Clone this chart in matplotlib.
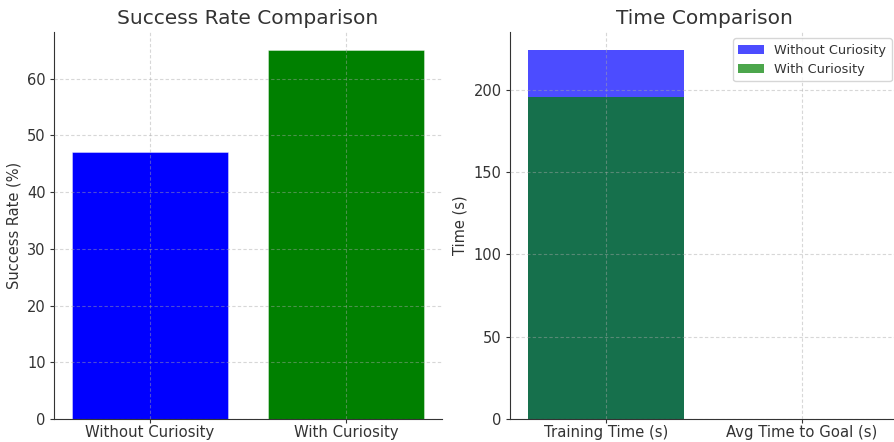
import matplotlib
matplotlib.use("Agg")
import matplotlib.pyplot as plt

# Data
sr_categories = ["Without Curiosity", "With Curiosity"]
sr_values = [47, 65]
sr_colors = ["blue", "green"]

time_categories = ["Training Time (s)", "Avg Time to Goal (s)"]
time_without = [224, 0]
time_with = [196, 0]

plt.rcParams['font.family'] = ['DejaVu Sans']
text_color = "#333333"
plt.rcParams['text.color'] = text_color
plt.rcParams['axes.labelcolor'] = text_color
plt.rcParams['xtick.color'] = text_color
plt.rcParams['ytick.color'] = text_color
plt.rcParams['axes.edgecolor'] = text_color

fig = plt.figure(figsize=(8.95, 4.42), dpi=100)
W, H = 895, 442
ax1 = fig.add_axes([54 / W, 23 / H, 388 / W, 387 / H])
ax2 = fig.add_axes([510 / W, 23 / H, 388 / W, 387 / H])

for ax in (ax1, ax2):
    ax.grid(True, linestyle=(0, (3, 2)), color="#a8a8a8", alpha=0.45, linewidth=0.8)
    ax.set_axisbelow(False)
    for s in ("top", "right"):
        ax.spines[s].set_visible(False)
    ax.tick_params(axis="y", labelsize=10.5, length=3, pad=3)
    ax.tick_params(axis="x", labelsize=10.7, length=3, pad=1.5)

ax1.bar(sr_categories, sr_values, color=sr_colors, width=0.8, zorder=1,
        edgecolor=(1, 1, 1, 0.45), linewidth=0.6)
ax1.set_title("Success Rate Comparison", fontsize=14.5, color=text_color)
ax1.set_ylabel("Success Rate (%)", fontsize=10.5)
ax1.set_yticks([0, 10, 20, 30, 40, 50, 60])

ax2.bar(time_categories, time_without, color="blue", alpha=0.7, width=0.8, label="Without Curiosity", zorder=1)
ax2.bar(time_categories, time_with, color="green", alpha=0.7, width=0.8, label="With Curiosity", zorder=1)
ax2.set_title("Time Comparison", fontsize=14.5, color=text_color)
ax2.set_ylabel("Time (s)", fontsize=10.5)
ax2.set_ylim(0, 224 * 1.05)
ax2.set_xlim(-0.49, 1.49)
ax2.legend(loc="upper right", fontsize=9.3, framealpha=0.8)

fig.savefig("out.png", dpi=100)
